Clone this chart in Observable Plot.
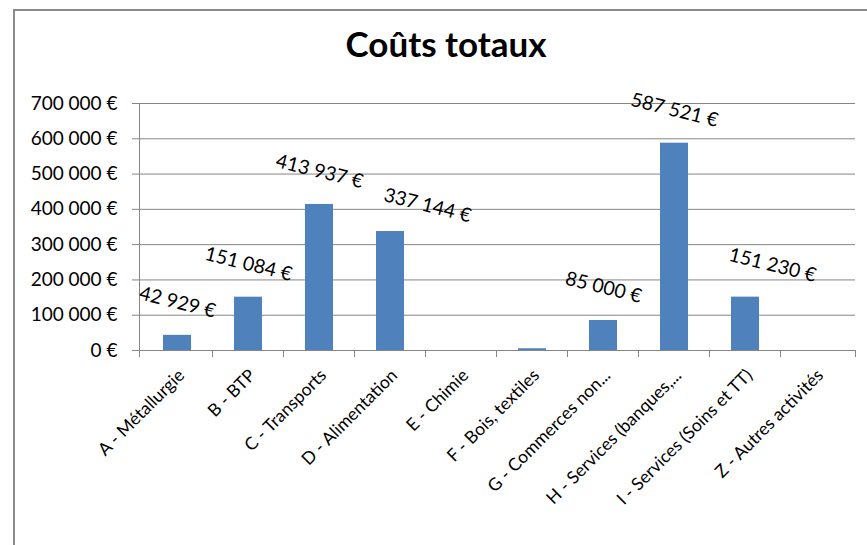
<!DOCTYPE html>
<html><head><meta charset="utf-8">
<script src="https://cdn.jsdelivr.net/npm/d3@7"></script>
<script src="https://cdn.jsdelivr.net/npm/@observablehq/plot@0.6"></script>
<style>
html,body{margin:0;padding:0;background:#fff;overflow:hidden;}
#wrap{position:relative;width:867px;height:545px;overflow:hidden;font-family:Lato,sans-serif;}
#frame{position:absolute;left:13px;top:9px;width:1000px;height:1000px;border-top:2px solid #8a8a8a;border-left:2px solid #8a8a8a;}
#title{position:absolute;left:0;width:892px;top:26px;text-align:center;font:bold 35px/35px Lato,sans-serif;color:#000;}
#chart{position:absolute;left:0;top:0;}
</style></head><body>
<div id="wrap"><div id="frame"></div><div id="chart"></div><div id="title">Coûts totaux</div></div>
<script>
const categories = ["A - Métallurgie","B - BTP","C - Transports","D - Alimentation","E - Chimie","F - Bois, textiles","G - Commerces non...","H - Services (banques,...","I - Services (Soins et TT)","Z - Autres activités"];
const values = [42929,151084,413937,337144,0,5000,85000,587521,151230,0];
const showLabel = [true,true,true,true,false,false,true,true,true,false];
const yTicks = [0,100000,200000,300000,400000,500000,600000,700000];

const data = categories.map((cat,i)=>({cat, value: values[i], show: showLabel[i]}));
const fmt = v => d3.format(",")(v).replace(/,/g, " ") + " €";
const shifted = ["D - Alimentation","I - Services (Soins et TT)"];
const grey = "#868686";

const frameMark = (index, scales, vals, dims) => {
  const g = d3.create("svg:g").attr("stroke", grey).attr("shape-rendering","crispEdges");
  const y0 = scales.y(0), yTop = scales.y(700000);
  const step = scales.x(categories[1]) - scales.x(categories[0]);
  const xl = dims.marginLeft, xr = dims.width - dims.marginRight;
  g.append("line").attr("x1", xl).attr("x2", xl).attr("y1", yTop).attr("y2", y0 + 7);
  categories.forEach((c,i) => {
    if (i === 0) return;
    const bx = scales.x(c) - step*0.3;
    g.append("line").attr("x1", bx).attr("x2", bx).attr("y1", y0).attr("y2", y0 + 7);
  });
  g.append("line").attr("x1", xr).attr("x2", xr).attr("y1", y0).attr("y2", y0 + 7);
  return g.node();
};

const chart = Plot.plot({
  width: 867, height: 545,
  marginLeft: 139, marginRight: 12, marginTop: 103, marginBottom: 195,
  style: {fontFamily: "Lato, sans-serif", background: "transparent", color: "#000", overflow: "visible"},
  x: {domain: categories, paddingInner: 0.6, paddingOuter: 0.3, axis: null},
  y: {domain: [0, 700000], axis: null},
  marks: [
    Plot.gridY(yTicks, {stroke: grey, strokeOpacity: 1}),
    Plot.barY(data, {x: "cat", y: "value", fill: "#4F81BD"}),
    Plot.axisY(yTicks, {tickFormat: fmt, tickSize: 7, tickPadding: 15, fontSize: 19, stroke: grey, fill: "#000", label: null}),
    frameMark,
    Plot.text(data.filter(d => d.show && !shifted.includes(d.cat)), {x: "cat", y: "value", text: d => fmt(d.value), dy: -33, rotate: 14, fontSize: 19.5, fill: "#000"}),
    Plot.text(data.filter(d => d.cat === shifted[0]), {x: "cat", y: "value", text: d => fmt(d.value), dx: 37, dy: -26, rotate: 14, fontSize: 19.5, fill: "#000"}),
    Plot.text(data.filter(d => d.cat === shifted[1]), {x: "cat", y: "value", text: d => fmt(d.value), dx: 27, dy: -32, rotate: 14, fontSize: 19.5, fill: "#000"}),
    Plot.text(data, {x: "cat", text: "cat", frameAnchor: "bottom", dx: 4, dy: 22, rotate: -45, textAnchor: "end", lineAnchor: "middle", fontSize: 17.5, fill: "#000"})
  ]
});
document.getElementById("chart").appendChild(chart);
</script>
</body></html>
